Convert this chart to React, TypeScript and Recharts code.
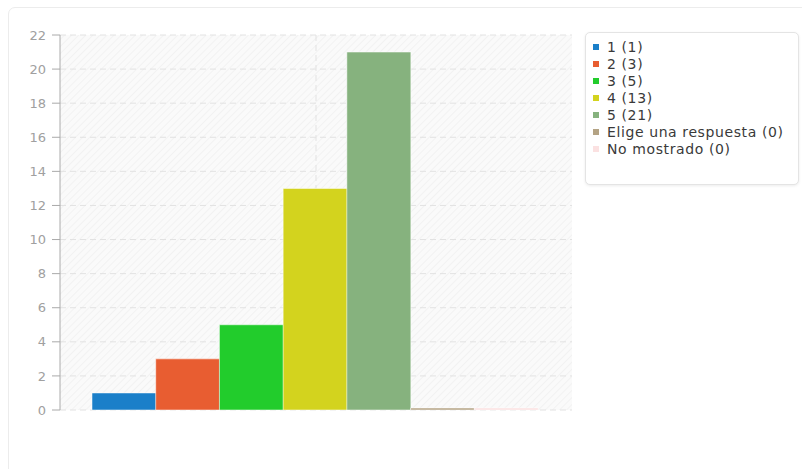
import React from 'react';
import { BarChart, Bar, XAxis, YAxis, CartesianGrid, Cell } from 'recharts';

const categories = ['1', '2', '3', '4', '5', 'Elige una respuesta', 'No mostrado'];
const values = [1, 3, 5, 13, 21, 0, 0];
const colors = ['#1a7fc9', '#e85d31', '#22cc2c', '#d3d31e', '#86b27e', '#b4a384', '#fbe1e1'];
const yTicks = [0, 2, 4, 6, 8, 10, 12, 14, 16, 18, 20, 22];

const data = categories.map((c, i) => ({ name: c, value: values[i] }));

const FONT = '"DejaVu Sans", sans-serif';

export default function App() {
  return (
    <div style={{ position: 'absolute', left: 0, top: 0, width: 802, height: 469, overflow: 'hidden', background: '#fff', fontFamily: FONT }}>
      <svg width={0} height={0} style={{ position: 'absolute' }}>
        <defs>
          <pattern id="hatch" width={5} height={5} patternUnits="userSpaceOnUse" patternTransform="rotate(45)">
            <rect width={5} height={5} fill="#fafafa" />
            <line x1={0} y1={0} x2={0} y2={5} stroke="#f0f0f0" strokeWidth={1.5} />
          </pattern>
        </defs>
      </svg>
      <div style={{ position: 'absolute', left: 8, top: 7, width: 820, height: 480, border: '1px solid #ececec', borderRadius: 7, boxSizing: 'border-box' }} />
      <div style={{ position: 'absolute', left: 0, top: 0 }}>
        <BarChart
          width={580}
          height={469}
          data={data}
          margin={{ top: 35, right: 8, bottom: 59, left: 0 }}
          barCategoryGap={0}
          barGap={0}
        >
          <CartesianGrid
            fill="url(#hatch)"
            stroke="#e2e2e2"
            strokeDasharray="6 4"
            verticalPoints={[316]}
          />
          <XAxis
            dataKey="name"
            tick={false}
            tickLine={false}
            height={0}
            padding={{ left: 32, right: 34 }}
            axisLine={{ stroke: '#999', strokeWidth: 1 }}
          />
          <XAxis
            xAxisId="top"
            orientation="top"
            dataKey="name"
            tick={false}
            tickLine={false}
            height={0}
            axisLine={{ stroke: '#e6e6e6', strokeWidth: 1 }}
          />
          <YAxis
            domain={[0, 22]}
            ticks={yTicks}
            width={60}
            tickSize={8}
            tickMargin={6}
            interval={0}
            axisLine={{ stroke: '#aaa', strokeWidth: 1 }}
            tickLine={{ stroke: '#aaa' }}
            tick={{ fill: '#a0a0a0', fontSize: 13, fontFamily: FONT }}
          />
          <YAxis
            yAxisId="right"
            orientation="right"
            domain={[0, 22]}
            width={0}
            tick={false}
            tickLine={false}
            axisLine={{ stroke: '#e6e6e6', strokeWidth: 1 }}
          />
          <Bar dataKey="value" isAnimationActive={false} minPointSize={2} stroke="#ffffff" strokeOpacity={0.5} strokeWidth={1}>
            {data.map((d, i) => (
              <Cell key={d.name} fill={colors[i]} />
            ))}
          </Bar>
        </BarChart>
      </div>
      <div
        style={{
          position: 'absolute',
          left: 585,
          top: 32,
          width: 214,
          height: 153,
          border: '1px solid #e4e4e4',
          borderRadius: 5,
          boxShadow: '0 1px 3px rgba(0,0,0,0.08)',
          boxSizing: 'border-box',
          background: '#fff',
          paddingTop: 5,
        }}
      >
        {categories.map((c, i) => (
          <div key={c} style={{ display: 'flex', alignItems: 'center', height: 17, paddingLeft: 7, fontSize: 14, letterSpacing: 0.6, color: '#3a3a3a', fontFamily: FONT, whiteSpace: 'nowrap' }}>
            <span style={{ display: 'inline-block', width: 6, height: 6, background: colors[i], marginRight: 8 }} />
            <span>{`${c} (${values[i]})`}</span>
          </div>
        ))}
      </div>
    </div>
  );
}
